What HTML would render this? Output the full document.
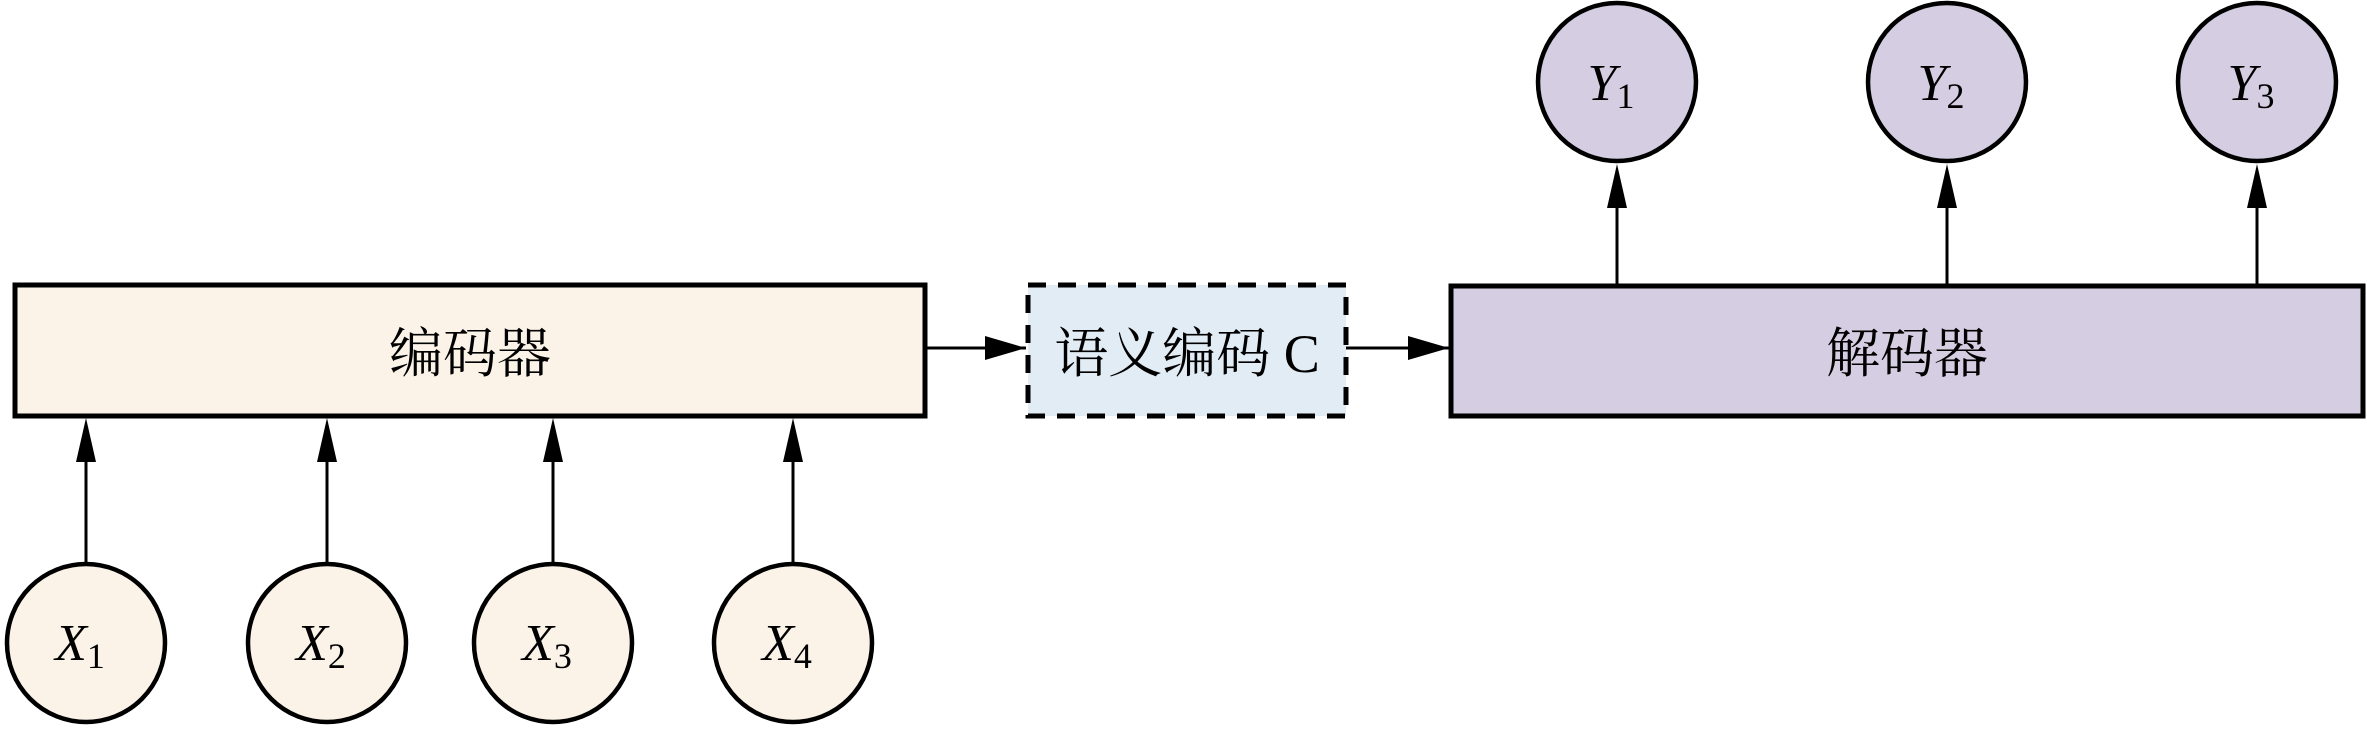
<!DOCTYPE html>
<html><head><meta charset="utf-8"><style>html,body{margin:0;padding:0;background:#fff}</style></head><body>
<svg width="2367" height="727" viewBox="0 0 2367 727" xmlns="http://www.w3.org/2000/svg">
<defs><marker id="a" markerWidth="10" markerHeight="10" refX="10" refY="5" orient="auto" markerUnits="userSpaceOnUse" viewBox="0 0 10 10"><path d="M0,0 L10,5 L0,10 z" fill="#000"/></marker></defs>
<g font-family="Liberation Serif, 'Noto Serif CJK SC', serif">
<rect x="15" y="285" width="910" height="131" fill="#fbf3e8" stroke="#000" stroke-width="5"/>
<text x="470" y="372" font-size="54" text-anchor="middle">编码器</text>
<rect x="1028" y="285" width="318" height="131" fill="#e2ecf5" stroke="#000" stroke-width="5" stroke-dasharray="18,12"/>
<text x="1187" y="372" font-size="54" text-anchor="middle">语义编码 C</text>
<rect x="1451" y="286" width="912" height="130" fill="#d5cde2" stroke="#000" stroke-width="5"/>
<text x="1907" y="372" font-size="54" text-anchor="middle">解码器</text>
<g stroke="#000" stroke-width="3" fill="none">
<line x1="925" y1="348" x2="1026" y2="348"/>
<line x1="1346" y1="348" x2="1449" y2="348"/>
</g>
<g fill="#000">
<path d="M985,336 L1026,348 L985,360z"/><path d="M1408,336 L1449,348 L1408,360z"/>
</g>
<g stroke="#000" stroke-width="3">
<line x1="86" y1="563" x2="86" y2="440"/><line x1="327" y1="563" x2="327" y2="440"/>
<line x1="553" y1="563" x2="553" y2="440"/><line x1="793" y1="563" x2="793" y2="440"/>
<line x1="1617" y1="286" x2="1617" y2="185"/><line x1="1947" y1="286" x2="1947" y2="185"/><line x1="2257" y1="286" x2="2257" y2="185"/>
</g>
<g fill="#000">
<path d="M76,462 L86,418 L96,462z"/><path d="M317,462 L327,418 L337,462z"/><path d="M543,462 L553,418 L563,462z"/><path d="M783,462 L793,418 L803,462z"/>
<path d="M1607,208 L1617,164 L1627,208z"/><path d="M1937,208 L1947,164 L1957,208z"/><path d="M2247,208 L2257,164 L2267,208z"/>
</g>
<g stroke="#000" stroke-width="4.5" fill="#fbf3e8">
<circle cx="86" cy="643" r="79"/><circle cx="327" cy="643" r="79"/><circle cx="553" cy="643" r="79"/><circle cx="793" cy="643" r="79"/>
</g>
<g stroke="#000" stroke-width="4.5" fill="#d5cde2">
<circle cx="1617" cy="82" r="79"/><circle cx="1947" cy="82" r="79"/><circle cx="2257" cy="82" r="79"/>
</g>
<g font-size="52" font-style="italic" text-anchor="middle">
<text x="80" y="660">X<tspan font-style="normal" font-size="36" dy="8">1</tspan></text>
<text x="321" y="660">X<tspan font-style="normal" font-size="36" dy="8">2</tspan></text>
<text x="547" y="660">X<tspan font-style="normal" font-size="36" dy="8">3</tspan></text>
<text x="787" y="660">X<tspan font-style="normal" font-size="36" dy="8">4</tspan></text>
<text x="1611" y="100">Y<tspan font-style="normal" font-size="36" dy="8">1</tspan></text>
<text x="1941" y="100">Y<tspan font-style="normal" font-size="36" dy="8">2</tspan></text>
<text x="2251" y="100">Y<tspan font-style="normal" font-size="36" dy="8">3</tspan></text>
</g>
</g>
</svg>
</body></html>
